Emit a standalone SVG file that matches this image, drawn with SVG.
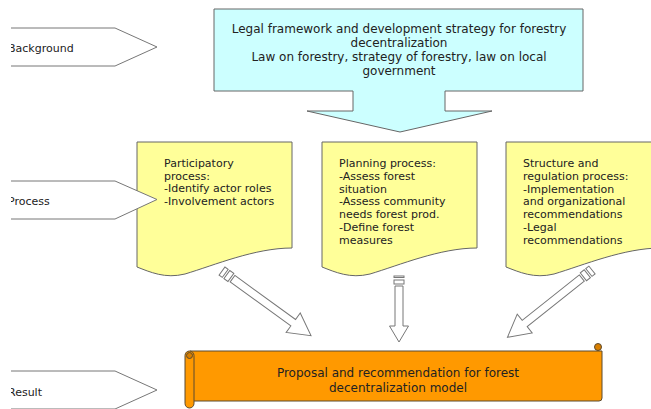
<svg xmlns="http://www.w3.org/2000/svg" width="651" height="409" viewBox="0 0 651 409">
  <defs>
    <style>
      text { font-family: "DejaVu Sans", Verdana, sans-serif; font-size: 11px; fill: #222; }
      .big { font-size: 12px; }
      .chev { fill: #fff; stroke: #777; stroke-width: 1; }
      .doc { fill: #ffff99; stroke: #666; stroke-width: 1; }
      .arr { fill: #fff; stroke: #777; stroke-width: 1; }
      .scroll { fill: #ff9900; stroke: #5a4a30; stroke-width: 1; }
      .curl { fill: #d97f00; stroke: #5a4a30; stroke-width: 1; }
    </style>
    <clipPath id="leftclip">
      <rect x="11" y="0" width="640" height="409"/>
    </clipPath>
  </defs>
  <rect width="651" height="409" fill="#fff"/>

  <g id="top-box">
    <polygon points="214,9 583,9 583,91 445,91 445,111 492,111 400,132 307,111 353,111 353,91 214,91" fill="#ccffff" stroke="#666"/>
    <text class="big" x="399" y="32.5" text-anchor="middle">Legal framework and development strategy for forestry</text>
    <text class="big" x="399" y="46.5" text-anchor="middle">decentralization</text>
    <text class="big" x="399" y="60.5" text-anchor="middle">Law on forestry, strategy of forestry, law on local</text>
    <text class="big" x="399" y="74.5" text-anchor="middle">government</text>
  </g>

  <g id="doc-participatory">
    <path class="doc" d="M137,142 H292 V248 C255,248 215,265 185,274 C165,279 150,272 137,267 Z"/>
    <text x="164" y="167">Participatory</text>
    <text x="164" y="179.7">process:</text>
    <text x="164" y="192.4">-Identify actor roles</text>
    <text x="164" y="205.1">-Involvement actors</text>
  </g>

  <g id="doc-planning">
    <path class="doc" d="M322,142 H477 V248 C440,248 400,265 370,274 C350,279 335,272 322,267 Z"/>
    <text x="339" y="167">Planning process:</text>
    <text x="339" y="179.8">-Assess forest</text>
    <text x="339" y="192.6">situation</text>
    <text x="339" y="205.4">-Assess community</text>
    <text x="339" y="218.2">needs forest prod.</text>
    <text x="339" y="231">-Define forest</text>
    <text x="339" y="243.8">measures</text>
  </g>

  <g id="doc-structure">
    <path class="doc" d="M506,142 H661 V248 C624,248 584,265 554,274 C534,279 519,272 506,267 Z"/>
    <text x="523" y="167">Structure and</text>
    <text x="523" y="179.8">regulation process:</text>
    <text x="523" y="192.6">-Implementation</text>
    <text x="523" y="205.4">and organizational</text>
    <text x="523" y="218.2">recommendations</text>
    <text x="523" y="231">-Legal</text>
    <text x="523" y="243.8">recommendations</text>
  </g>

  <g id="label-background" clip-path="url(#leftclip)">
    <path class="chev" d="M8,28 H115 L157,47 L115,66 H8"/>
    <text x="8" y="52">Background</text>
  </g>
  <g id="label-process" clip-path="url(#leftclip)">
    <path class="chev" d="M8,181 H115 L157,199.5 L115,219 H8"/>
    <text x="8" y="205">Process</text>
  </g>
  <g id="label-result" clip-path="url(#leftclip)">
    <path class="chev" d="M8,371 H115 L157,390 L115,409 H8"/>
    <text x="8" y="396">Result</text>
  </g>

  <g id="result-scroll">
    <path class="scroll" d="M190,351 H602 V398 Q602,401 599,401 H190 Z"/>
    <line x1="598" y1="346" x2="598" y2="351" stroke="#5a4a30"/>
    <circle class="curl" cx="598" cy="347" r="3.5"/>
    <rect class="scroll" x="185" y="351" width="9" height="57" rx="4.5"/>
    <circle class="curl" cx="189.5" cy="355.5" r="3"/>
    <text class="big" x="398" y="377" text-anchor="middle">Proposal and recommendation for forest</text>
    <text class="big" x="398" y="392" text-anchor="middle">decentralization model</text>
  </g>

  <g id="connectors">
    <g transform="translate(222,271) rotate(36)">
      <rect class="arr" x="0" y="-5" width="4" height="10"/>
      <rect class="arr" x="6" y="-5" width="5" height="10"/>
      <path class="arr" d="M13,-4 H88 V-12 L110,0 L88,12 V4 H13 Z"/>
    </g>
    <g transform="translate(399,276) rotate(90)">
      <rect class="arr" x="0" y="-5" width="1.5" height="10"/>
      <rect class="arr" x="4" y="-5" width="4" height="10"/>
      <path class="arr" d="M10,-4 H50 V-9.5 L66,0 L50,9.5 V4 H10 Z"/>
    </g>
    <g transform="translate(592,270) rotate(141.5)">
      <rect class="arr" x="0" y="-5" width="4" height="10"/>
      <rect class="arr" x="6" y="-5" width="5" height="10"/>
      <path class="arr" d="M13,-4 H86 V-12 L108,0 L86,12 V4 H13 Z"/>
    </g>
  </g>
</svg>
